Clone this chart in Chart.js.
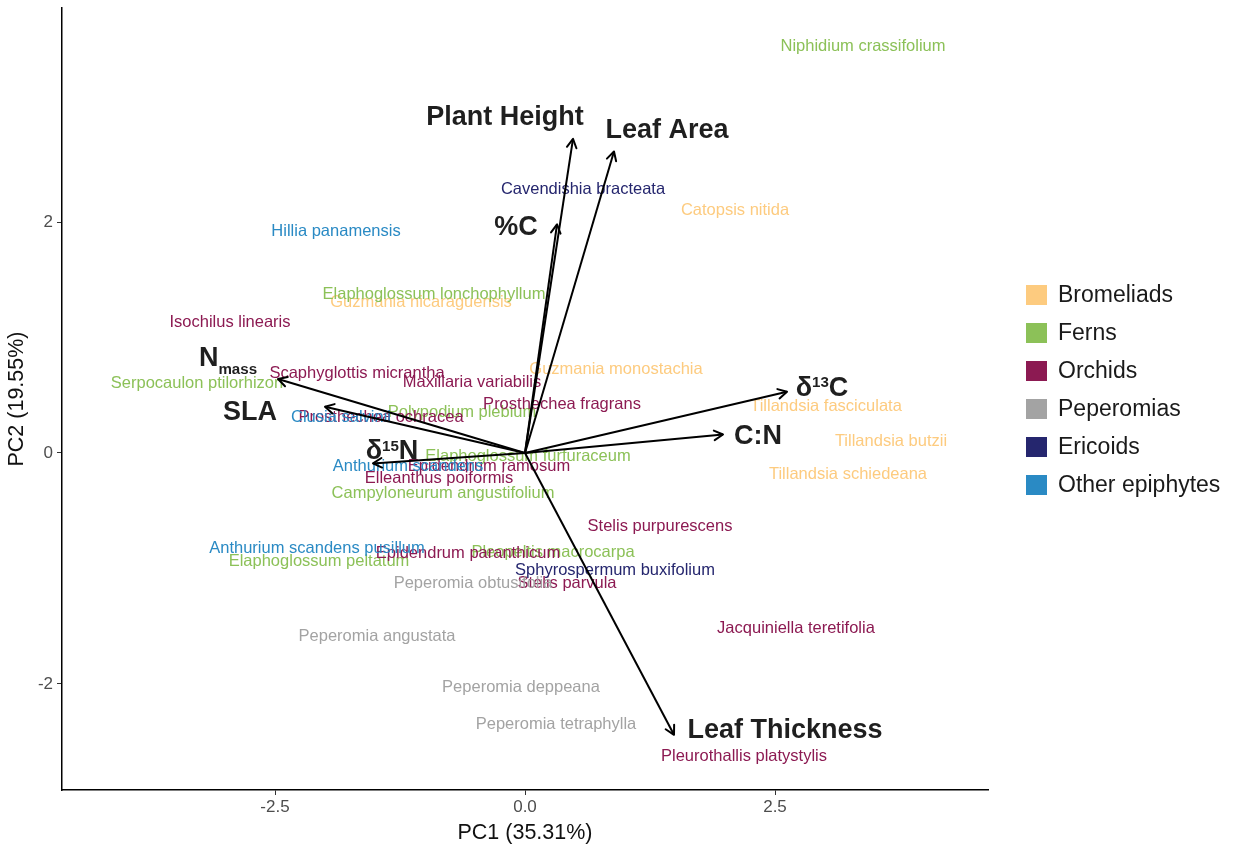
<!DOCTYPE html>
<html>
<head>
<meta charset="utf-8">
<script src="https://cdn.jsdelivr.net/npm/chart.js@4.4.0/dist/chart.umd.min.js"></script>
<style>
  html, body { margin: 0; padding: 0; background: #fff; }
</style>
</head>
<body>
<canvas id="pca" width="1237" height="846"></canvas>
<script>
// Groups and their colours
const groupNames = ['Bromeliads', 'Ferns', 'Orchids', 'Peperomias', 'Ericoids', 'Other epiphytes'];
const groupColors = ['#FDCB7F', '#8CC158', '#8C1A52', '#A3A3A3', '#25266E', '#2A8AC4'];

// Species scores (PC1, PC2), group = index into groupNames
const speciesNames = [
  'Niphidium crassifolium', 'Cavendishia bracteata', 'Catopsis nitida', 'Hillia panamensis',
  'Elaphoglossum lonchophyllum', 'Guzmania nicaraguensis', 'Isochilus linearis', 'Scaphyglottis micrantha',
  'Serpocaulon ptilorhizon', 'Maxillaria variabilis', 'Guzmania monostachia', 'Prosthechea fragrans',
  'Polypodium plebium', 'Clusia salvinii', 'Prosthechea ochracea', 'Tillandsia fasciculata',
  'Tillandsia butzii', 'Tillandsia schiedeana', 'Elaphoglossum furfuraceum', 'Anthurium scandens',
  'Epidendrum ramosum', 'Elleanthus poiformis', 'Campyloneurum angustifolium', 'Stelis purpurescens',
  'Anthurium scandens pusillum', 'Elaphoglossum peltatum', 'Epidendrum paranthicum', 'Pleopeltis macrocarpa',
  'Sphyrospermum buxifolium', 'Peperomia obtusifolia', 'Stelis parvula', 'Peperomia angustata',
  'Jacquiniella teretifolia', 'Peperomia deppeana', 'Peperomia tetraphylla', 'Pleurothallis platystylis'
];
const speciesGroup = [
  1, 4, 0, 5,
  1, 0, 2, 2,
  1, 2, 0, 2,
  1, 5, 2, 0,
  0, 0, 1, 5,
  2, 2, 1, 2,
  5, 1, 2, 1,
  4, 3, 2, 3,
  2, 3, 3, 2
];
const speciesPC1 = [
  3.38, 0.58, 2.10, -1.89,
  -0.91, -1.04, -2.95, -1.68,
  -3.28, -0.53, 0.91, 0.37,
  -0.63, -1.84, -1.44, 3.01,
  3.66, 3.23, 0.03, -1.17,
  -0.36, -0.86, -0.82, 1.35,
  -2.08, -2.06, -0.57, 0.28,
  0.90, -0.52, 0.42, -1.48,
  2.71, -0.04, 0.31, 2.19
];
const speciesPC2 = [
  3.52, 2.28, 2.10, 1.92,
  1.37, 1.30, 1.13, 0.69,
  0.60, 0.61, 0.72, 0.42,
  0.35, 0.31, 0.31, 0.40,
  0.10, -0.19, -0.03, -0.12,
  -0.12, -0.22, -0.35, -0.64,
  -0.83, -0.94, -0.87, -0.86,
  -1.02, -1.13, -1.13, -1.59,
  -1.52, -2.03, -2.35, -2.63
];

// Trait loadings: arrow tips and label anchors (^..^ superscript, _.._ subscript)
const traitNames = ['Plant Height', 'Leaf Area', '%C', 'δ^13^C', 'C:N', 'Leaf Thickness', 'N_mass_', 'SLA', 'δ^15^N'];
const traitPC1 = [0.48, 0.89, 0.32, 2.62, 1.98, 1.49, -2.47, -2.00, -1.52];
const traitPC2 = [2.72, 2.61, 1.98, 0.53, 0.16, -2.44, 0.64, 0.40, -0.09];
const traitLabelPC1 = [-0.20, 1.42, -0.09, 2.97, 2.33, 2.60, -2.97, -2.75, -1.33];
const traitLabelPC2 = [2.92, 2.81, 1.97, 0.58, 0.16, -2.38, 0.84, 0.37, 0.03];

const xTicks = [-2.5, 0, 2.5];
const yTicks = [-2, 0, 2];

const FONT = '"Liberation Sans", Arial, sans-serif';
Chart.defaults.font.family = FONT;

const datasets = [];
groupNames.forEach((g, gi) => {
  const pts = [];
  speciesNames.forEach((n, i) => {
    if (speciesGroup[i] === gi) pts.push({ x: speciesPC1[i], y: speciesPC2[i], name: n });
  });
  datasets.push({
    label: g,
    data: pts,
    backgroundColor: groupColors[gi],
    borderColor: groupColors[gi],
    borderWidth: 0,
    pointRadius: 0,
    pointHoverRadius: 0
  });
});
traitNames.forEach((t, i) => {
  datasets.push({
    label: t,
    data: [{ x: 0, y: 0 }, { x: traitPC1[i], y: traitPC2[i] }],
    showLine: true,
    borderColor: '#000',
    borderWidth: 2,
    pointRadius: 0,
    pointHoverRadius: 0,
    isTrait: true
  });
});

function drawRich(ctx, text, cx, cy, size) {
  const parts = text.split(/(\^[^^]+\^|_[^_]+_)/).filter(s => s);
  const small = size * 0.56;
  const segs = parts.map(p => {
    if (p[0] === '^') return { t: p.slice(1, -1), s: small, dy: -0.716 * (size - small) };
    if (p[0] === '_') return { t: p.slice(1, -1), s: small, dy: size * 0.3 };
    return { t: p, s: size, dy: 0 };
  });
  let total = 0;
  segs.forEach(sg => {
    ctx.font = 'bold ' + sg.s + 'px ' + FONT;
    sg.w = ctx.measureText(sg.t).width;
    total += sg.w;
  });
  let x = cx - total / 2;
  const base = cy + 0.716 * size / 2;
  ctx.textAlign = 'left';
  ctx.textBaseline = 'alphabetic';
  segs.forEach(sg => {
    ctx.font = 'bold ' + sg.s + 'px ' + FONT;
    ctx.fillText(sg.t, x, base + sg.dy);
    x += sg.w;
  });
}

const biplotText = {
  id: 'biplotText',
  beforeDatasetsDraw(chart) {
    const ctx = chart.ctx;
    ctx.save();
    ctx.font = '16.5px ' + FONT;
    ctx.textAlign = 'center';
    ctx.textBaseline = 'middle';
    chart.data.datasets.forEach((ds, di) => {
      if (ds.isTrait) return;
      const meta = chart.getDatasetMeta(di);
      ctx.fillStyle = ds.backgroundColor;
      meta.data.forEach((el, j) => {
        ctx.fillText(ds.data[j].name, el.x, el.y);
      });
    });
    ctx.restore();
  },
  afterDatasetsDraw(chart) {
    const ctx = chart.ctx;
    const xs = chart.scales.x, ys = chart.scales.y;
    ctx.save();
    ctx.strokeStyle = '#000';
    ctx.lineWidth = 2;
    ctx.lineCap = 'round';
    ctx.lineJoin = 'round';
    chart.data.datasets.forEach((ds, di) => {
      if (!ds.isTrait) return;
      const meta = chart.getDatasetMeta(di);
      const p0 = meta.data[0], p1 = meta.data[1];
      const a = Math.atan2(p1.y - p0.y, p1.x - p0.x);
      const len = 10, spread = 0.5;
      ctx.beginPath();
      ctx.moveTo(p1.x - len * Math.cos(a - spread), p1.y - len * Math.sin(a - spread));
      ctx.lineTo(p1.x, p1.y);
      ctx.lineTo(p1.x - len * Math.cos(a + spread), p1.y - len * Math.sin(a + spread));
      ctx.stroke();
    });
    ctx.fillStyle = '#1f1f1f';
    traitNames.forEach((t, i) => {
      drawRich(ctx, t, xs.getPixelForValue(traitLabelPC1[i]), ys.getPixelForValue(traitLabelPC2[i]), 27);
    });
    ctx.restore();
  },
  afterDraw(chart) {
    // group legend to the right of the panel
    const ctx = chart.ctx;
    const area = chart.chartArea;
    const x0 = area.right + 38;
    const yMid = (area.top + area.bottom) / 2 - 9;
    const step = 38;
    const y0 = yMid - step * (groupNames.length - 1) / 2;
    ctx.save();
    ctx.font = '23px ' + FONT;
    ctx.textAlign = 'left';
    ctx.textBaseline = 'middle';
    groupNames.forEach((g, i) => {
      const cy = y0 + i * step;
      ctx.fillStyle = groupColors[i];
      ctx.fillRect(x0, cy - 10, 21, 20);
      ctx.fillStyle = '#1a1a1a';
      ctx.fillText(g, x0 + 32, cy + 1);
    });
    ctx.restore();
  }
};

new Chart(document.getElementById('pca'), {
  type: 'scatter',
  data: { datasets },
  plugins: [biplotText],
  options: {
    responsive: false,
    animation: false,
    events: [],
    layout: { padding: { top: 8, right: 249, bottom: 0, left: 0 } },
    scales: {
      x: {
        type: 'linear',
        min: -4.63,
        max: 4.63,
        afterBuildTicks: s => { s.ticks = xTicks.map(v => ({ value: v })); },
        afterFit: s => { s.height = 56; s.paddingLeft = 0; s.paddingRight = 0; },
        ticks: {
          callback: v => v.toFixed(1),
          font: { size: 17 },
          color: '#4d4d4d',
          padding: 2
        },
        grid: { drawOnChartArea: false, drawTicks: true, tickLength: 5, color: '#333' },
        border: { display: true, color: '#000', width: 1.5 },
        title: { display: true, text: 'PC1 (35.31%)', font: { size: 21.5 }, color: '#111', padding: { top: 0, bottom: 0 } }
      },
      y: {
        type: 'linear',
        min: -2.918,
        max: 3.853,
        afterBuildTicks: s => { s.ticks = yTicks.map(v => ({ value: v })); },
        afterFit: s => { s.width = 62; s.paddingTop = 0; s.paddingBottom = 0; },
        ticks: {
          callback: v => String(v),
          font: { size: 17 },
          color: '#4d4d4d',
          padding: 4
        },
        grid: { drawOnChartArea: false, drawTicks: true, tickLength: 5, color: '#333' },
        border: { display: true, color: '#000', width: 1.5 },
        title: { display: true, text: 'PC2 (19.55%)', font: { size: 21.5 }, color: '#111', padding: { top: 4, bottom: 0 } }
      }
    },
    plugins: {
      tooltip: { enabled: false },
      legend: { display: false }
    }
  }
});
</script>
</body>
</html>
